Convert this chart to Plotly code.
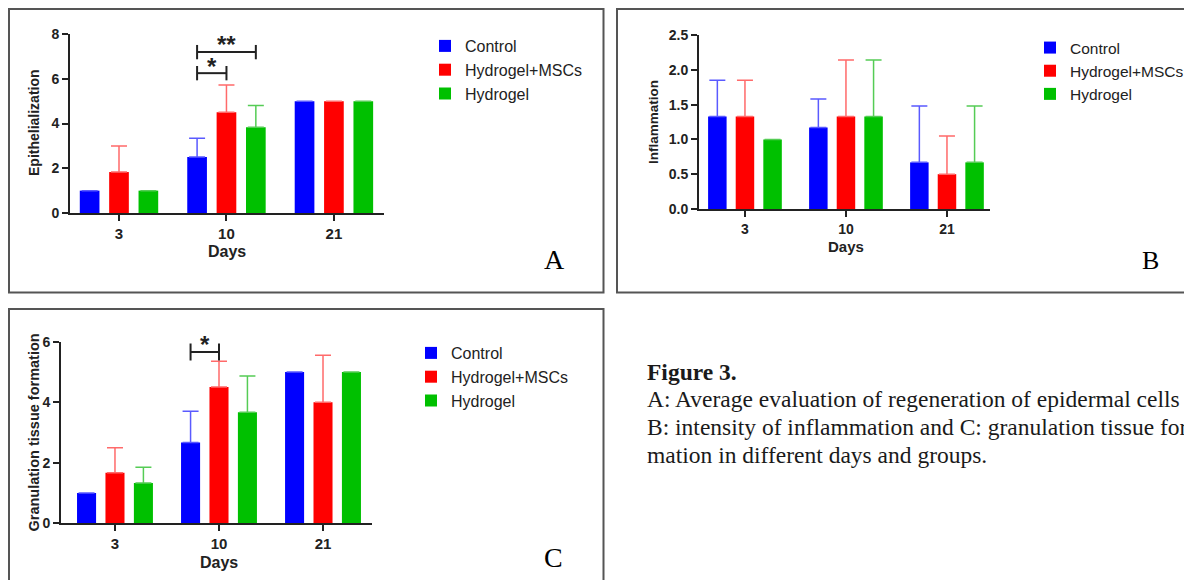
import plotly.graph_objects as go

# ---------------- data ----------------
days = ["3", "10", "21"]
groups = ["Control", "Hydrogel+MSCs", "Hydrogel"]

# A: Epithelialization (mean, upper SD)
epi_control = [1.0, 2.5, 5.0]
epi_msc = [1.83, 4.5, 5.0]
epi_hydrogel = [1.0, 3.83, 5.0]
epi_control_sd = [0, 0.84, 0]
epi_msc_sd = [1.17, 1.22, 0]
epi_hydrogel_sd = [0, 0.98, 0]

# B: Inflammation
inf_control = [1.33, 1.17, 0.67]
inf_msc = [1.33, 1.33, 0.5]
inf_hydrogel = [1.0, 1.33, 0.67]
inf_control_sd = [0.52, 0.41, 0.81]
inf_msc_sd = [0.52, 0.81, 0.55]
inf_hydrogel_sd = [0, 0.81, 0.81]

# C: Granulation tissue formation
gra_control = [1.0, 2.67, 5.0]
gra_msc = [1.67, 4.5, 4.0]
gra_hydrogel = [1.33, 3.67, 5.0]
gra_control_sd = [0, 1.03, 0]
gra_msc_sd = [0.83, 0.85, 1.55]
gra_hydrogel_sd = [0.52, 1.2, 0]

# significance comparisons (day, group1, group2, label)
sig_A = [("10", "Control", "Hydrogel+MSCs", "*"), ("10", "Control", "Hydrogel", "**")]
sig_C = [("10", "Control", "Hydrogel+MSCs", "*")]

caption_title = "Figure 3."
caption_lines = [
    "A: Average evaluation of regeneration of epidermal cells",
    "B: intensity of inflammation and C: granulation tissue for",
    "mation in different days and groups.",
]

# ---------------- layout helpers ----------------
W, H = 1192, 580
OFF = 8  # page body margin: the figure is drawn 8 px in from the window edge
def fx(x):
    return (x - OFF) / W
def fy(y):
    return 1 - (y - OFF) / H

SANS = "Liberation Sans, Arial, sans-serif"
SERIF = "Liberation Serif, Times New Roman, serif"
INK = "#222222"
BAR_COLORS = ["#0000FF", "#FF0000", "#00C000"]
ERR_COLORS = ["#5a5aff", "#ff6a6a", "#55cc55"]
BARGAP = 0.18
BARGROUPGAP = 0.33
SLOT = (1 - BARGAP) / 3

fig = go.Figure()

panels = [
    dict(ax="", leg="legend", means=[epi_control, epi_msc, epi_hydrogel],
         sds=[epi_control_sd, epi_msc_sd, epi_hydrogel_sd]),
    dict(ax="2", leg="legend2", means=[inf_control, inf_msc, inf_hydrogel],
         sds=[inf_control_sd, inf_msc_sd, inf_hydrogel_sd]),
    dict(ax="3", leg="legend3", means=[gra_control, gra_msc, gra_hydrogel],
         sds=[gra_control_sd, gra_msc_sd, gra_hydrogel_sd]),
]

for p in panels:
    for k, g in enumerate(groups):
        fig.add_trace(go.Bar(
            x=days, y=p["means"][k], name=g,
            xaxis="x" + p["ax"], yaxis="y" + p["ax"], legend=p["leg"],
            marker=dict(color=BAR_COLORS[k], line=dict(width=0)),
            error_y=dict(type="data", symmetric=False, array=p["sds"][k],
                         arrayminus=[0] * len(days), color=ERR_COLORS[k],
                         thickness=1.5, width=8),
            hoverinfo="skip",
        ))

def xaxis_cfg(dom, rng, size):
    return dict(domain=dom, type="category", range=rng, showline=True,
                linecolor=INK, linewidth=2, ticks="outside", ticklen=6,
                tickwidth=2, tickcolor=INK, showgrid=False, zeroline=False,
                automargin=False,
                tickfont=dict(family=SANS, size=size, color=INK, weight="bold"),
                fixedrange=True)

def yaxis_cfg(dom, rng, dtick, size, fmt=None):
    d = dict(domain=dom, range=rng, dtick=dtick, tick0=0, showline=True,
             linecolor=INK, linewidth=2, ticks="outside", ticklen=6,
             tickwidth=2, tickcolor=INK, showgrid=False, zeroline=False,
             automargin=False,
             tickfont=dict(family=SANS, size=size, color=INK, weight="bold"),
             fixedrange=True)
    if fmt:
        d["tickformat"] = fmt
    return d

layout = dict(
    template="none",
    width=W, height=H, margin=dict(l=0, r=0, t=0, b=0, pad=0, autoexpand=False),
    paper_bgcolor="white", plot_bgcolor="white",
    barmode="group", bargap=BARGAP, bargroupgap=BARGROUPGAP,
    showlegend=True,
    xaxis=dict(xaxis_cfg([fx(70), fx(384)], [-0.456, 2.466], 15), anchor="y"),
    yaxis=dict(yaxis_cfg([fy(213), fy(34)], [0, 8], 2, 14), anchor="x"),
    xaxis2=dict(xaxis_cfg([fx(699), fx(990)], [-0.455, 2.426], 14), anchor="y2"),
    yaxis2=dict(yaxis_cfg([fy(209), fy(35)], [0, 2.5], 0.5, 14, ".1f"), anchor="x2"),
    xaxis3=dict(xaxis_cfg([fx(61), fx(372)], [-0.519, 2.471], 15), anchor="y3"),
    yaxis3=dict(yaxis_cfg([fy(523.3), fy(341.7)], [0, 6], 2, 14), anchor="x3"),
)
for name, lx, ly, fs in [("legend", 425, 29, 16), ("legend2", 1030, 31, 15.5),
                         ("legend3", 411, 336, 16)]:
    layout[name] = dict(x=fx(lx), y=fy(ly), xanchor="left", yanchor="top",
                        font=dict(family=SANS, size=fs, color=INK),
                        bgcolor="rgba(0,0,0,0)", borderwidth=0)
fig.update_layout(**layout)

shapes = []
annotations = []

# panel borders
for x0, y0, x1, y1 in [(9, 9, 603.5, 292.5), (617, 9, 1215, 292.5), (9, 309, 603.5, 600)]:
    shapes.append(dict(type="rect", xref="paper", yref="paper",
                       x0=fx(x0), x1=fx(x1), y0=fy(y0), y1=fy(y1),
                       line=dict(color="#555555", width=2), fillcolor="rgba(0,0,0,0)"))

# significance brackets
def bracket(sigs, ax, levels, half, star_y, size):
    for (day, g1, g2, lab), lev, sy in zip(sigs, levels, star_y):
        di = days.index(day)
        xa = di + (groups.index(g1) - 1) * SLOT
        xb = di + (groups.index(g2) - 1) * SLOT
        line = dict(color=INK, width=2)
        for (x0, x1, y0, y1) in [(xa, xb, lev, lev), (xa, xa, lev - half, lev + half),
                                 (xb, xb, lev - half, lev + half)]:
            shapes.append(dict(type="line", xref="x" + ax, yref="y" + ax,
                               x0=x0, x1=x1, y0=y0, y1=y1, line=line))
        annotations.append(dict(xref="x" + ax, yref="y" + ax, x=(xa + xb) / 2, y=sy,
                                text=lab, showarrow=False, xanchor="center", yanchor="middle",
                                font=dict(family=SANS, size=size, color=INK, weight="bold")))

bracket(sig_A, "", [6.25, 7.19], 0.32, [6.56, 7.54], 24)
bracket(sig_C, "3", [5.66], 0.28, [5.92], 24)

# axis titles
def txt(x, y, s, size, angle=0, family=SANS, bold=True, anchor="center", color=INK):
    annotations.append(dict(xref="paper", yref="paper", x=fx(x), y=fy(y), text=s,
                            showarrow=False, textangle=angle, xanchor=anchor, yanchor="middle",
                            font=dict(family=family, size=size, color=color,
                                      weight="bold" if bold else "normal")))

txt(34, 123, "Epithelialization", 14, -90)
txt(227, 251, "Days", 16)
txt(653, 122, "Inflammation", 13.5, -90)
txt(846, 246, "Days", 15)
txt(33, 432.5, "Granulation tissue formation", 14.5, -90)
txt(219, 562, "Days", 16)

# panel letters
txt(554, 259, "A", 28, family=SERIF, bold=False, color="black")
txt(1150, 260, "B", 26, family=SERIF, bold=False, color="black")
txt(553, 557, "C", 28, family=SERIF, bold=False, color="black")

# caption
txt(645, 372, caption_title, 23.5, family=SERIF, bold=True, anchor="left", color="#1a1a1a")
for yy, line in zip([399, 427, 455], caption_lines):
    txt(645, yy, line, 23.5, family=SERIF, bold=False, anchor="left", color="#1a1a1a")

fig.update_layout(shapes=shapes, annotations=annotations)
fig.write_html("out.html")
